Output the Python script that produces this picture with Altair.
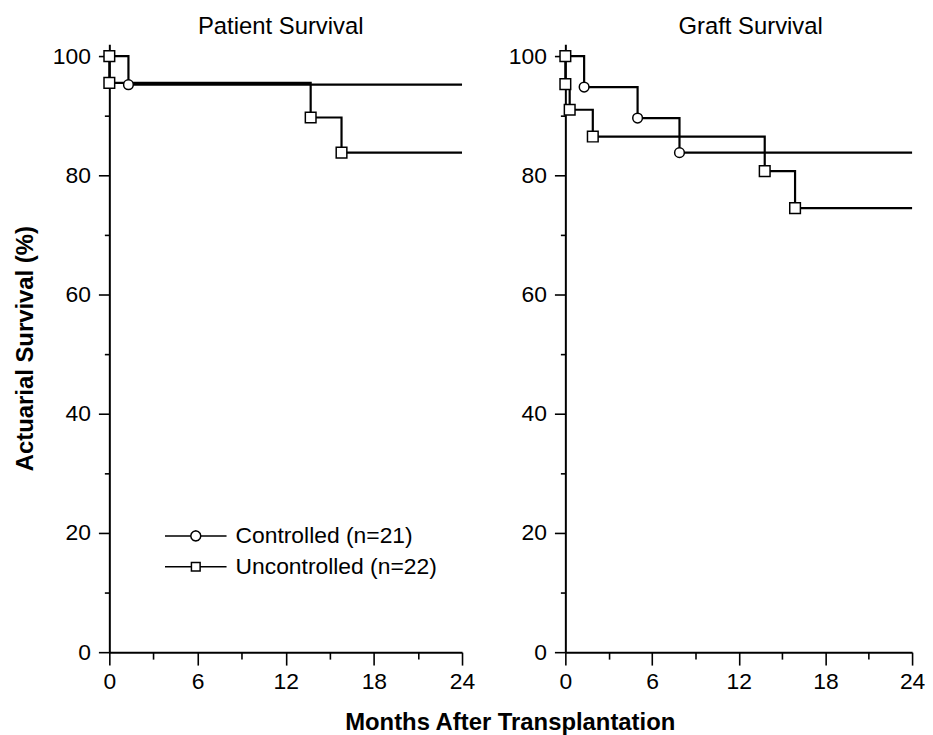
import altair as alt
import pandas as pd

FONT = "Liberation Sans"
SERIES = ["Controlled (n=21)", "Uncontrolled (n=22)"]
X_MAX = 24
Y_MAX = 102

# Patient survival (months, % surviving)
ps_ctrl_t = [0, 1.3]
ps_ctrl_s = [100, 95.2]
ps_unc_t = [0, 0, 13.7, 15.8]
ps_unc_s = [100, 95.5, 89.7, 83.8]

# Graft survival
gs_ctrl_t = [0, 1.3, 5.0, 7.9]
gs_ctrl_s = [100, 94.8, 89.6, 83.8]
gs_unc_t = [0, 0, 0.3, 1.9, 13.8, 15.9]
gs_unc_s = [100, 95.3, 91.0, 86.5, 80.7, 74.5]

x_ticks = [0, 3, 6, 9, 12, 15, 18, 21, 24]
y_ticks = [0, 10, 20, 30, 40, 50, 60, 70, 80, 90, 100]

rows = []
def add(panel, series, ts, ss):
    for t, s in zip(ts, ss):
        rows.append(dict(panel=panel, series=series, t=t, s=s, marker=True))
    rows.append(dict(panel=panel, series=series, t=X_MAX, s=ss[-1], marker=False))

add("patient", SERIES[0], ps_ctrl_t, ps_ctrl_s)
add("patient", SERIES[1], ps_unc_t, ps_unc_s)
add("graft", SERIES[0], gs_ctrl_t, gs_ctrl_s)
add("graft", SERIES[1], gs_unc_t, gs_unc_s)
df = pd.DataFrame(rows)

# legend glyphs: line - marker - line (circle drawn as polygon)
PATH_C = ("M-1.77,0H-0.29M0.29,0H1.77"
          "M0.29,0L0.25,0.145L0.145,0.25L0,0.29L-0.145,0.25L-0.25,0.145L-0.29,0"
          "L-0.25,-0.145L-0.145,-0.25L0,-0.29L0.145,-0.25L0.25,-0.145Z")
PATH_S = "M-1.77,0H-0.25M0.25,0H1.77M-0.25,-0.25H0.25V0.25H-0.25Z"


def make_panel(name, title, width, title_dx, with_legend, with_xtitle):
    d = df[df.panel == name]
    base = alt.Chart(d)
    xaxis_kw = dict(
        values=x_ticks,
        labelExpr="datum.value % 6 === 0 ? datum.label : ''",
        tickSize={"condition": {"test": "datum.value % 6 === 0", "value": 13}, "value": 7},
        tickWidth=1.6, tickColor="black", domainColor="black", domainWidth=2,
        labelFont=FONT, labelFontSize=23, labelColor="black", labelPadding=6,
        grid=False, labelFlush=False, labelOverlap=False,
    )
    if with_xtitle:
        xaxis_kw.update(title="Months After Transplantation", titleFont=FONT, titleFontSize=24,
                        titleFontWeight="bold", titleColor="black", titleX=403, titleY=78,
                        titleBaseline="alphabetic", titleAlign="center")
    else:
        xaxis_kw.update(title=None)
    yaxis_kw = dict(
        values=y_ticks,
        labelExpr="datum.value % 20 === 0 ? datum.label : ''",
        tickSize={"condition": {"test": "datum.value % 20 === 0", "value": 11}, "value": 5},
        tickWidth=1.6, tickColor="black", domainColor="black", domainWidth=2,
        labelFont=FONT, labelFontSize=23, labelColor="black", labelPadding=8,
        grid=False, labelFlush=False, labelOverlap=False,
    )
    if with_legend:
        yaxis_kw.update(title="Actuarial Survival (%)", titleFont=FONT, titleFontSize=24,
                        titleFontWeight="bold", titleColor="black", titlePadding=15)
    else:
        yaxis_kw.update(title=None)

    x = alt.X("t:Q", scale=alt.Scale(domain=[0, X_MAX], nice=False, zero=False), axis=alt.Axis(**xaxis_kw))
    y = alt.Y("s:Q", scale=alt.Scale(domain=[0, Y_MAX], nice=False), axis=alt.Axis(**yaxis_kw))

    line = base.mark_line(interpolate="step-after", color="black", strokeWidth=2.2).encode(
        x=x, y=y, detail="series:N", order="t:Q"
    )
    pts = base.transform_filter("datum.marker").mark_point(
        filled=False, fill="white", stroke="black", strokeWidth=1.5, opacity=1
    ).encode(
        x=x, y=y,
        shape=alt.Shape("series:N", scale=alt.Scale(domain=SERIES, range=["circle", "square"]), legend=None),
        size=alt.Size("series:N", scale=alt.Scale(domain=SERIES, range=[95, 115]), legend=None),
    )
    layers = [line, pts]
    if with_legend:
        leg = base.transform_filter("datum.marker").mark_point(
            filled=False, stroke="black", strokeWidth=1.5, opacity=0
        ).encode(
            x=x, y=y,
            shape=alt.Shape("series:N", scale=alt.Scale(domain=SERIES, range=[PATH_C, PATH_S]),
                            legend=alt.Legend(title=None, orient="none", legendX=68.5, legendY=476.5,
                                              symbolSize=1225, symbolStrokeWidth=1.5,
                                              symbolStrokeColor="black", symbolFillColor="white",
                                              symbolOpacity=1, labelFont=FONT, labelFontSize=23,
                                              labelColor="black", labelOffset=21.5, rowPadding=0,
                                              labelLimit=0, padding=0)),
        )
        layers.append(leg)
    ch = alt.layer(*layers).resolve_scale(shape="independent", size="independent").properties(
        width=width, height=Y_MAX * 6,
        title=alt.TitleParams(title, font=FONT, fontSize=24, fontWeight="normal", color="black",
                              anchor="middle", offset=5, dx=title_dx),
    )
    return ch


left = make_panel("patient", "Patient Survival", 355, -5, True, True)
right = make_panel("graft", "Graft Survival", 349, 12, False, False)

chart = alt.hconcat(left, right, spacing=104, bounds="flush").properties(
    padding={"left": 5, "top": 5, "right": 0, "bottom": 0},
    background="white",
).configure_view(stroke=None)

chart.save("out.html", embed_options={"renderer": "svg", "actions": False})
